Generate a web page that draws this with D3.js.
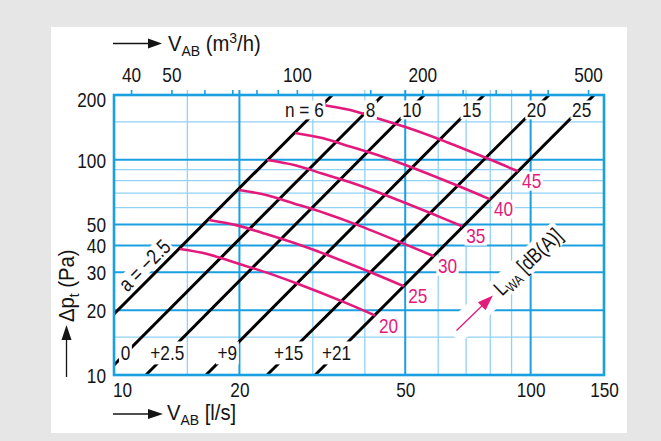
<!DOCTYPE html>
<html><head><meta charset="utf-8">
<script src="https://cdn.jsdelivr.net/npm/d3@7"></script>
<style>
html,body{margin:0;padding:0;background:#e6e6e6;}
svg{display:block;}
</style></head><body>
<svg id="c" width="661" height="441"></svg>
<script>
// ---------- data ----------
const xTicksLs = [10, 20, 50, 100, 150];
const yTicks = [10, 20, 30, 40, 50, 100, 200];
const topTicksLabeled = [40, 50, 100, 200, 500];
const topTicksMinor = [60, 70, 80, 90, 150, 250, 300, 400];
const xGridMajor = [20, 50, 100];
const xGridMinor = [15, 30, 40, 60, 70, 80, 90];
const yGridMajor = [20, 30, 40, 50, 100];
const yGridMinor = [15, 60, 70, 80, 90, 150];
const nLabels = ["6", "8", "10", "15", "20", "25"];
const aLabels = ["\u22122.5", "0", "+2.5", "+9", "+15", "+21"];
// black lines: start/end (V in l/s, dp in Pa)
const lineStartV = [10, 10, 11.93, 16.63, 23.3, 30.4];
const lineStartP = [19.2, 11.13, 10, 10, 10, 10];
const lineEndV = [33.4, 44.2, 55.5, 77.3, 110.7, 142];
const lineEndP = [200, 200, 200, 200, 200, 200];
// pink curves: constant sound power L_WA
const lwaLabels = ["45", "40", "35", "30", "25", "20"];
const lwa45V = [31.75, 36.9, 43.0, 51.3, 60.6, 78.6, 93.3];
const lwa45P = [179.8, 170.3, 155.6, 139.8, 124.3, 101.6, 88.4];
const lwa40V = [27.2, 31.61, 36.83, 43.94, 51.91, 67.33, 79.9];
const lwa40P = [133.3, 126.2, 115.3, 103.6, 92.1, 75.3, 65.5];
const lwa35V = [23.3, 27.07, 31.55, 37.64, 44.46, 57.67, 68.5];
const lwa35P = [99.8, 94.6, 86.4, 77.6, 69.0, 56.4, 49.1];
const lwa30V = [19.95, 23.19, 27.02, 32.24, 38.08, 49.39, 58.6];
const lwa30P = [72.4, 68.6, 62.7, 56.3, 50.1, 40.9, 35.6];
const lwa25V = [16.9, 19.65, 22.89, 27.31, 32.26, 41.85, 49.7];
const lwa25P = [52.5, 49.7, 45.5, 40.8, 36.3, 29.7, 25.8];
const lwa20V = [14.4, 16.74, 19.50, 23.27, 27.49, 35.65, 42.3];
const lwa20P = [38.5, 36.5, 33.3, 29.9, 26.6, 21.8, 18.9];
const lwaV = [lwa45V, lwa40V, lwa35V, lwa30V, lwa25V, lwa20V];
const lwaP = [lwa45P, lwa40P, lwa35P, lwa30P, lwa25P, lwa20P];

// ---------- drawing ----------
const W = 661, H = 441;
const BLUE = '#1a9fe0', LBLUE = '#92d2f3', PINK = '#e4197c', INK = '#141414';
const FONT = '"Liberation Sans", Arial, Helvetica, sans-serif';
const FS = 21, FSS = 14, SX = 0.82;
const TFS = 22.5, TFSS = 15.5, TSX = 0.9;

const svg = d3.select('#c').attr('font-family', FONT);
svg.append('rect').attr('width', W).attr('height', H).attr('fill', '#e6e6e6');
svg.append('rect').attr('x', 51).attr('y', 27).attr('width', 576).attr('height', 406).attr('fill', '#fff');

const x = d3.scaleLog().domain([10, 150]).range([114, 604]);
const y = d3.scaleLog().domain([10, 200]).range([375, 95]);
const xTop = d3.scaleLog().domain([36.4, 36.4 * 15]).range([114, 604]);

const gGrid = svg.append('g'), gKL = svg.append('g'), gLines = svg.append('g'),
      gPink = svg.append('g'), gKH = svg.append('g'), gText = svg.append('g'), gBorder = svg.append('g');

// condense text horizontally (narrow grotesque look)
function narrow(sel, s) {
  const k = s || SX;
  sel.each(function () {
    const e = d3.select(this);
    const tx = +e.attr('x') || 0, ty = +e.attr('y') || 0;
    const pre = e.attr('transform') || '';
    e.attr('x', 0).attr('y', 0).attr('transform', `${pre} translate(${tx},${ty}) scale(${k},1)`);
  });
  return sel;
}

// grid
function vline(v, col, w) {
  gGrid.append('line').attr('x1', x(v)).attr('x2', x(v)).attr('y1', y(10)).attr('y2', y(200) - 5)
    .attr('stroke', col).attr('stroke-width', w);
}
function hline(v, col, w) {
  gGrid.append('line').attr('x1', x(10)).attr('x2', x(150)).attr('y1', y(v)).attr('y2', y(v))
    .attr('stroke', col).attr('stroke-width', w);
}
xGridMinor.forEach(v => vline(v, LBLUE, 1.3));
yGridMinor.forEach(v => hline(v, LBLUE, 1.3));
xGridMajor.forEach(v => vline(v, BLUE, 2));
yGridMajor.forEach(v => hline(v, BLUE, 2));

// top axis (m3/h)
const topAx = gGrid.append('g').attr('transform', 'translate(0,95)')
  .call(d3.axisTop(xTop).tickValues(topTicksLabeled.concat(topTicksMinor)).tickSize(5).tickPadding(8)
    .tickFormat(d => topTicksLabeled.includes(d) ? d : ''));
topAx.select('.domain').remove();
topAx.selectAll('line').attr('stroke', BLUE).attr('stroke-width', 1.6);
topAx.attr('font-family', FONT).attr('font-size', FS);
narrow(topAx.selectAll('text').attr('fill', INK));

// left axis
const leftAx = gText.append('g').attr('transform', 'translate(114,0)')
  .call(d3.axisLeft(y).tickValues(yTicks).tickSize(0).tickPadding(8).tickFormat(d3.format('d')));
leftAx.select('.domain').remove();
leftAx.attr('font-family', FONT).attr('font-size', FS);
leftAx.selectAll('text').attr('fill', INK).attr('dy', '0.35em');
leftAx.selectAll('.tick').filter(d => d === 200).select('text').attr('dy', '0.57em');
narrow(leftAx.selectAll('text'));

// bottom axis
const botAx = gText.append('g').attr('transform', 'translate(0,375)')
  .call(d3.axisBottom(x).tickValues(xTicksLs).tickSize(0).tickPadding(7).tickFormat(d3.format('d')));
botAx.select('.domain').remove();
botAx.attr('font-family', FONT).attr('font-size', FS);
botAx.selectAll('text').attr('fill', INK);
botAx.selectAll('.tick').filter(d => d === 10).select('text').attr('x', 8);
narrow(botAx.selectAll('text'));

// black lines
const lineGen = d3.line().x(d => x(d[0])).y(d => y(d[1]));
const linePx = [];
for (let i = 0; i < lineStartV.length; i++) {
  const pts = [[lineStartV[i], lineStartP[i]], [lineEndV[i], lineEndP[i]]];
  gLines.append('path').attr('d', lineGen(pts)).attr('fill', 'none')
    .attr('stroke', '#000').attr('stroke-width', 3);
  linePx.push([x(pts[0][0]), y(pts[0][1]), x(pts[1][0]), y(pts[1][1])]);
}
function xAtY(i, py) {
  const [x0, y0, x1, y1] = linePx[i];
  return x0 + (py - y0) * (x1 - x0) / (y1 - y0);
}

// pink curves
const curveGen = d3.line().x(d => x(d[0])).y(d => y(d[1])).curve(d3.curveCatmullRom);
lwaV.forEach((vs, k) => {
  const pts = vs.map((v, j) => [v, lwaP[k][j]]);
  gPink.append('path').attr('d', curveGen(pts)).attr('fill', 'none')
    .attr('stroke', PINK).attr('stroke-width', 2.6);
});

// white knock-out behind a label
function knock(layer, node, padL, padR, padT, padB, outer) {
  const b = node.getBBox();
  const tr = (outer || '') + ' ' + (node.getAttribute('transform') || '');
  layer.append('rect').attr('x', b.x - padL).attr('y', b.y - padT)
    .attr('width', b.width + padL + padR).attr('height', b.height + padT + padB)
    .attr('fill', '#fff').attr('transform', tr);
}

// n labels (top)
nLabels.forEach((lab, i) => {
  let t;
  if (i === 0) {
    t = gText.append('text').attr('x', xAtY(i, 110) + 6.5).attr('y', 117).attr('text-anchor', 'end')
      .attr('font-size', FS).attr('fill', INK).text('n = ' + lab);
  } else {
    t = gText.append('text').attr('x', xAtY(i, 110) + 2.5).attr('y', 117).attr('text-anchor', 'middle')
      .attr('font-size', FS).attr('fill', INK).text(lab);
  }
  narrow(t);
  knock(gKH, t.node(), 2, 2, -2, -2);
});

// a labels (bottom)
aLabels.forEach((lab, i) => {
  if (i === 0) return;
  const t = gText.append('text').attr('x', xAtY(i, 352) - 1.5).attr('y', 360).attr('text-anchor', 'middle')
    .attr('font-size', FS).attr('fill', INK).text(lab);
  narrow(t);
  knock(gKH, t.node(), 2, 2, 0, 0);
});

// rotated "a = -2.5"
{
  const [x0, y0, x1, y1] = linePx[0];
  const th = Math.atan2(y1 - y0, x1 - x0);
  const px = x(11), py = y0 + (px - x0) * (y1 - y0) / (x1 - x0);
  const ox = px + 5.5 * Math.sin(th), oy = py - 5.5 * Math.cos(th);
  const tr = `translate(${ox},${oy}) rotate(${th * 180 / Math.PI})`;
  const g = gText.append('g').attr('transform', tr);
  const t = g.append('text').attr('font-size', FS).attr('fill', INK).text('a = ' + aLabels[0]);
  narrow(t);
  knock(gKL, t.node(), 1, 2, -2, -3, tr);
}

// pink labels
lwaLabels.forEach((lab, k) => {
  const vs = lwaV[k], ps = lwaP[k];
  const t = gText.append('text').attr('x', x(vs[vs.length - 1]) + 4).attr('y', y(ps[ps.length - 1]) + 17)
    .attr('font-size', FS).attr('fill', PINK).text(lab);
  narrow(t);
  knock(gKL, t.node(), 2, 2, -2, -2);
});

// L_WA arrow + label
{
  const ox = x(66.4), oy = y(16.1);
  const tr = `translate(${ox},${oy}) rotate(-44)`;
  const g = gText.append('g').attr('transform', tr);
  g.append('line').attr('x1', 0).attr('x2', 38).attr('y1', 0).attr('y2', 0).attr('stroke', PINK).attr('stroke-width', 1.3);
  g.append('path').attr('d', 'M35,-5.5L50.5,0L35,5.5Z').attr('fill', PINK);
  const t = g.append('text').attr('x', 56).attr('y', 7.3).attr('font-size', FS).attr('fill', INK);
  t.append('tspan').text('L');
  t.append('tspan').attr('font-size', FSS).attr('dy', 4).text('WA');
  t.append('tspan').attr('dy', -4).text(' [dB(A)]');
  narrow(t);
  const b = t.node().getBBox();
  gKL.append('rect').attr('transform', tr).attr('x', -6).attr('y', -12)
    .attr('width', 56 + (b.x + b.width) * SX + 3 + 6).attr('height', 24).attr('fill', '#fff');
}

// border
gBorder.append('rect').attr('x', 114).attr('y', 95).attr('width', 490).attr('height', 280)
  .attr('fill', 'none').attr('stroke', BLUE).attr('stroke-width', 2.6);

// titles
const gT = svg.append('g').attr('fill', INK);
// top
gT.append('line').attr('x1', 113).attr('x2', 150).attr('y1', 43.5).attr('y2', 43.5).attr('stroke', INK).attr('stroke-width', 1.3);
gT.append('path').attr('d', 'M148,38.5L162,43.5L148,48.5Z');
{
  const t = gT.append('text').attr('x', 168).attr('y', 51).attr('font-size', TFS);
  t.append('tspan').text('V');
  t.append('tspan').attr('font-size', TFSS).attr('dy', 5).text('AB');
  t.append('tspan').attr('dy', -5).text(' (m');
  t.append('tspan').attr('font-size', TFSS).attr('dy', -8).text('3');
  t.append('tspan').attr('dy', 8).text('/h)');
  narrow(t, TSX);
}
// bottom
gT.append('line').attr('x1', 113).attr('x2', 150).attr('y1', 414).attr('y2', 414).attr('stroke', INK).attr('stroke-width', 1.3);
gT.append('path').attr('d', 'M148,409L163,414L148,419Z');
{
  const t = gT.append('text').attr('x', 167).attr('y', 420).attr('font-size', TFS);
  t.append('tspan').text('V');
  t.append('tspan').attr('font-size', TFSS).attr('dy', 5).text('AB');
  t.append('tspan').attr('dy', -5).text(' [l/s]');
  narrow(t, TSX);
}
// left
gT.append('line').attr('x1', 66.5).attr('x2', 66.5).attr('y1', 377).attr('y2', 338).attr('stroke', INK).attr('stroke-width', 1.3);
gT.append('path').attr('d', 'M61.5,340L66.5,325L71.5,340Z');
{
  const t = gT.append('text').attr('transform', 'translate(74,322) rotate(-90)').attr('font-size', TFS);
  t.append('tspan').text('\u0394p');
  t.append('tspan').attr('font-size', TFSS).attr('dy', 5).text('t');
  t.append('tspan').attr('dy', -5).text(' (Pa)');
  narrow(t, TSX);
}
</script>
</body></html>
